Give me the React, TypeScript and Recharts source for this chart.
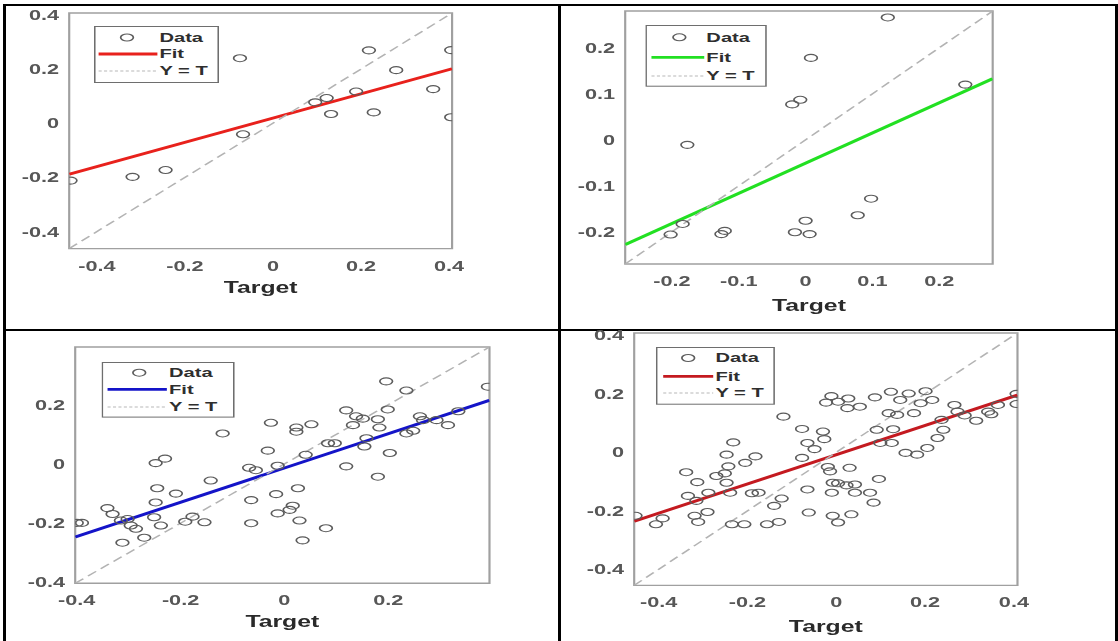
import React from 'react';
import { ComposedChart, Scatter, Line, XAxis, YAxis, ReferenceArea } from 'recharts';

// the source screenshot is stretched horizontally, so every panel is drawn narrow and scaled
const S = 1.55;
const FONT = '"Liberation Sans", Arial, Helvetica, sans-serif';

const legendLabels = ['Data', 'Fit', 'Y = T'];
const axisTitle = 'Target';

// Panel 1 (top left)
const targets1 = [-0.46, -0.319, -0.244, -0.075, -0.068, 0.096, 0.122, 0.132, 0.189, 0.218, 0.229, 0.28, 0.364, 0.405, 0.405];
const outputs1 = [-0.212, -0.198, -0.173, 0.24, -0.041, 0.077, 0.093, 0.034, 0.117, 0.269, 0.04, 0.196, 0.126, 0.27, 0.022];
const limits1 = [-0.463, 0.407];
const fitY1 = [-0.188, 0.201];
const ticks1 = [-0.4, -0.2, 0, 0.2, 0.4];

// Panel 2 (top right)
const targets2 = [0.123, 0.008, -0.02, -0.008, 0.239, -0.177, 0.098, 0.078, 0.0, -0.016, 0.006, -0.121, -0.126, -0.184, -0.202];
const outputs2 = [0.266, 0.178, 0.077, 0.087, 0.12, -0.011, -0.128, -0.164, -0.176, -0.201, -0.205, -0.198, -0.205, -0.183, -0.206];
const limits2 = [-0.27, 0.28];
const fitY2 = [-0.228, 0.133];
const ticks2 = [-0.2, -0.1, 0, 0.1, 0.2];

// Panel 3 (bottom left)
const targets3 = [
  -0.4, -0.39, -0.341, -0.331, -0.315, -0.302, -0.296, -0.286, -0.312, -0.27, -0.248, -0.23, -0.245, -0.248, -0.251, -0.238,
  -0.209, -0.191, -0.177, -0.154, -0.142, -0.119, -0.068, -0.055, -0.064, -0.064, -0.032, -0.026, -0.013, -0.016, -0.013, 0.01,
  0.016, 0.023, 0.023, 0.052, 0.026, 0.029, 0.035, 0.041, 0.08, 0.084, 0.097, 0.119, 0.132, 0.138, 0.151, 0.119, 0.154, 0.158,
  0.18, 0.183, 0.199, 0.18, 0.203, 0.196, 0.235, 0.235, 0.248, 0.261, 0.267, 0.293, 0.315, 0.335, 0.392,
];
const outputs3 = [
  -0.199, -0.199, -0.149, -0.169, -0.191, -0.186, -0.208, -0.219, -0.266, -0.249, 0.003, 0.018, -0.082, -0.13, -0.18, -0.208,
  -0.1, -0.195, -0.178, -0.197, -0.056, 0.103, -0.013, -0.021, -0.122, -0.2, 0.045, 0.139, -0.006, -0.102, -0.167, -0.155,
  -0.141, 0.123, 0.109, 0.134, -0.082, -0.191, -0.258, 0.031, -0.217, 0.07, 0.07, 0.181, 0.131, 0.161, 0.153, -0.008, 0.059, 0.087,
  0.151, 0.123, 0.184, -0.043, 0.037, 0.279, 0.248, 0.103, 0.112, 0.161, 0.148, 0.148, 0.131, 0.178, 0.261,
];
const limits3 = [-0.403, 0.395];
const fitY3 = [-0.247, 0.215];
const ticks3 = [-0.4, -0.2, 0, 0.2];

// Panel 4 (bottom right)
const targets4 = [
  -0.452, -0.406, -0.391, -0.338, -0.313, -0.334, -0.315, -0.319, -0.311, -0.29, -0.288, -0.27, -0.251, -0.247, -0.243, -0.247,
  -0.232, -0.239, -0.235, -0.207, -0.205, -0.182, -0.19, -0.175, -0.156, -0.14, -0.123, -0.129, -0.119, -0.077, -0.065, -0.049,
  -0.077, -0.065, -0.062, -0.03, -0.027, -0.023, -0.011, 0.004, 0.027, 0.025, 0.053, -0.019, -0.014, 0.03, -0.008, 0.004,
  0.023, 0.042, -0.01, 0.042, -0.008, 0.004, 0.034, 0.076, 0.084, 0.096, 0.087, 0.091, 0.099, 0.118, 0.123, 0.128, 0.125, 0.137,
  0.144, 0.156, 0.163, 0.175, 0.182, 0.19, 0.201, 0.205, 0.216, 0.228, 0.237, 0.241, 0.266, 0.273, 0.315, 0.342, 0.364, 0.406,
  0.406, 0.349, 0.289,
];
const outputs4 = [
  -0.217, -0.246, -0.226, -0.068, -0.102, -0.149, -0.166, -0.217, -0.238, -0.204, -0.138, -0.081, -0.072, -0.104, -0.048, -0.008,
  0.034, -0.138, -0.246, -0.246, -0.036, -0.014, -0.14, -0.138, -0.246, -0.183, -0.158, -0.238, 0.122, 0.08, 0.032, 0.011,
  -0.019, -0.127, -0.206, 0.071, 0.045, 0.17, 0.192, 0.173, 0.184, 0.151, 0.156, -0.05, -0.065, -0.053, -0.104, -0.106,
  -0.113, -0.11, -0.138, -0.138, -0.217, -0.24, -0.212, -0.138, -0.172, -0.091, 0.188, 0.077, 0.032, 0.134, 0.207, 0.079, 0.032, 0.128,
  0.179, -0.002, 0.201, 0.134, -0.008, 0.168, 0.209, 0.015, 0.179, 0.049, 0.111, 0.077, 0.162, 0.139, 0.108, 0.139, 0.162, 0.2,
  0.165, 0.13, 0.126,
];
const limits4 = [-0.455, 0.408];
const fitY4 = [-0.236, 0.196];
const ticks4 = [-0.4, -0.2, 0, 0.2, 0.4];

// page layout of each axes box and its legend (px in the final picture)
const layouts = [
  { L: 68.9, R: 451.8, T: 12.7, B: 248.3, titleDy: 38.7, lg: { dx: 24.7, dy: 13.3, w: 125, h: 57, mx: 33, x1: 4.6, x2: 63.4, tx: 65.4, rows: [11.5, 28, 45] } },
  { L: 625.1, R: 992.6, T: 11, B: 264, titleDy: 41, lg: { dx: 20.4, dy: 14, w: 121.4, h: 61.7, mx: 34, x1: 6.1, x2: 58.9, tx: 61, rows: [12.3, 32.3, 51] } },
  { L: 75, R: 489.3, T: 347, B: 583.3, titleDy: 38.4, lg: { dx: 25.7, dy: 14.7, w: 133, h: 55.6, mx: 37.7, x1: 6, x2: 65.3, tx: 67.5, rows: [10.7, 27.3, 45] } },
  { L: 633.7, R: 1017, T: 333.3, B: 585.7, titleDy: 41, lg: { dx: 22.3, dy: 14, w: 119, h: 57.7, mx: 32.3, x1: 7.3, x2: 57.3, tx: 59.5, rows: [11, 29.3, 46] } },
];

const YW = 44;
const MT = 10;
const MR = 22;
const XH = 60;

const fmt = (v: number) => (Math.abs(v) < 1e-9 ? '0' : String(v));

const tickStyle = { fontSize: 14, fill: '#575757', fontWeight: 'bold', fontFamily: FONT };

const Ring = (props: any) => {
  const { cx, cy } = props;
  if (cx == null || cy == null) return <g />;
  return <ellipse cx={cx} cy={cy} rx={4.1} ry={3.5} fill="none" stroke="#5c5c5c" strokeWidth={1.1} />;
};

function Panel({ targets, outputs, limits, fitY, ticks, color, layout }: any) {
  const points = targets.map((x: number, i: number) => ({ x, y: outputs[i] }));
  const fit = limits.map((x: number, i: number) => ({ x, y: fitY[i] }));
  const identity = limits.map((v: number) => ({ x: v, y: v }));

  const boxW = (layout.R - layout.L) / S;
  const boxH = layout.B - layout.T;
  const chartW = YW + boxW + MR;
  const chartH = MT + boxH + XH;
  const lg = layout.lg;

  return (
    <div
      style={{
        position: 'absolute',
        left: layout.L - YW * S,
        top: layout.T - MT,
        width: chartW,
        height: chartH,
        transform: `scaleX(${S})`,
        transformOrigin: '0 0',
      }}
    >
      <ComposedChart width={chartW} height={chartH} margin={{ top: MT, right: MR, bottom: 0, left: 0 }}>
        <XAxis
          type="number"
          dataKey="x"
          domain={limits}
          ticks={ticks}
          interval={0}
          allowDataOverflow
          axisLine={false}
          tickLine={false}
          tickSize={4}
          tickMargin={8}
          height={XH}
          tick={tickStyle}
          tickFormatter={fmt}
          label={{
            content: () => (
              <text
                x={YW + boxW / 2}
                y={MT + boxH + layout.titleDy}
                textAnchor="middle"
                dominantBaseline="central"
                fontSize={16}
                fontWeight="bold"
                fill="#2a2a2a"
                fontFamily={FONT}
              >
                {axisTitle}
              </text>
            ),
          }}
        />
        <YAxis
          type="number"
          dataKey="y"
          domain={limits}
          ticks={ticks}
          interval={0}
          allowDataOverflow
          axisLine={false}
          tickLine={false}
          tickSize={4}
          tickMargin={2.5}
          width={YW}
          tick={tickStyle}
          tickFormatter={fmt}
        />
        <ReferenceArea
          x1={limits[0]}
          x2={limits[1]}
          y1={limits[0]}
          y2={limits[1]}
          fill="none"
          stroke="#a0a0a0"
          strokeWidth={1.4}
          ifOverflow="visible"
        />
        <Scatter data={points} dataKey="y" shape={Ring} isAnimationActive={false} />
        <Line data={fit} dataKey="y" type="linear" stroke={color} strokeWidth={2.8} dot={false} activeDot={false} isAnimationActive={false} />
        <Line data={identity} dataKey="y" type="linear" stroke="#b3b3b3" strokeWidth={1.3} strokeDasharray="7 4" dot={false} activeDot={false} isAnimationActive={false} />
      </ComposedChart>
      <svg
        style={{ position: 'absolute', left: YW + lg.dx / S, top: MT + lg.dy, overflow: 'visible' }}
        width={lg.w / S}
        height={lg.h}
      >
        <rect x={0.5} y={0.5} width={lg.w / S - 1} height={lg.h - 1} fill="#fff" stroke="#6e6e6e" strokeWidth={1} />
        <ellipse cx={lg.mx / S} cy={lg.rows[0]} rx={4.1} ry={3.5} fill="none" stroke="#5c5c5c" strokeWidth={1.1} />
        <line x1={lg.x1 / S} x2={lg.x2 / S} y1={lg.rows[1]} y2={lg.rows[1]} stroke={color} strokeWidth={2.8} />
        <line x1={lg.x1 / S} x2={lg.x2 / S} y1={lg.rows[2]} y2={lg.rows[2]} stroke="#b8b8b8" strokeWidth={1.2} strokeDasharray="2 1.5" />
        {legendLabels.map((t, i) => (
          <text
            key={t}
            x={lg.tx / S}
            y={lg.rows[i]}
            dominantBaseline="central"
            fontSize={13}
            fontWeight="bold"
            fill="#2e2e2e"
            fontFamily={FONT}
          >
            {t}
          </text>
        ))}
      </svg>
    </div>
  );
}

const rule = (left: number, top: number, width: number, height: number) => (
  <div style={{ position: 'absolute', left, top, width, height, background: '#000' }} />
);

export default function App() {
  return (
    <div style={{ position: 'absolute', left: 0, top: 0, width: 1118, height: 641, background: '#fff', overflow: 'hidden' }}>
      {rule(3, 4, 1115, 2)}
      {rule(3, 4, 3, 637)}
      {rule(558, 4, 3, 637)}
      {rule(1115, 4, 3, 637)}
      {rule(3, 328.5, 1115, 2)}
      <Panel targets={targets1} outputs={outputs1} limits={limits1} fitY={fitY1} ticks={ticks1} color="#e8211c" layout={layouts[0]} />
      <Panel targets={targets2} outputs={outputs2} limits={limits2} fitY={fitY2} ticks={ticks2} color="#22e022" layout={layouts[1]} />
      <Panel targets={targets3} outputs={outputs3} limits={limits3} fitY={fitY3} ticks={ticks3} color="#1414c8" layout={layouts[2]} />
      <Panel targets={targets4} outputs={outputs4} limits={limits4} fitY={fitY4} ticks={ticks4} color="#c41a20" layout={layouts[3]} />
    </div>
  );
}
